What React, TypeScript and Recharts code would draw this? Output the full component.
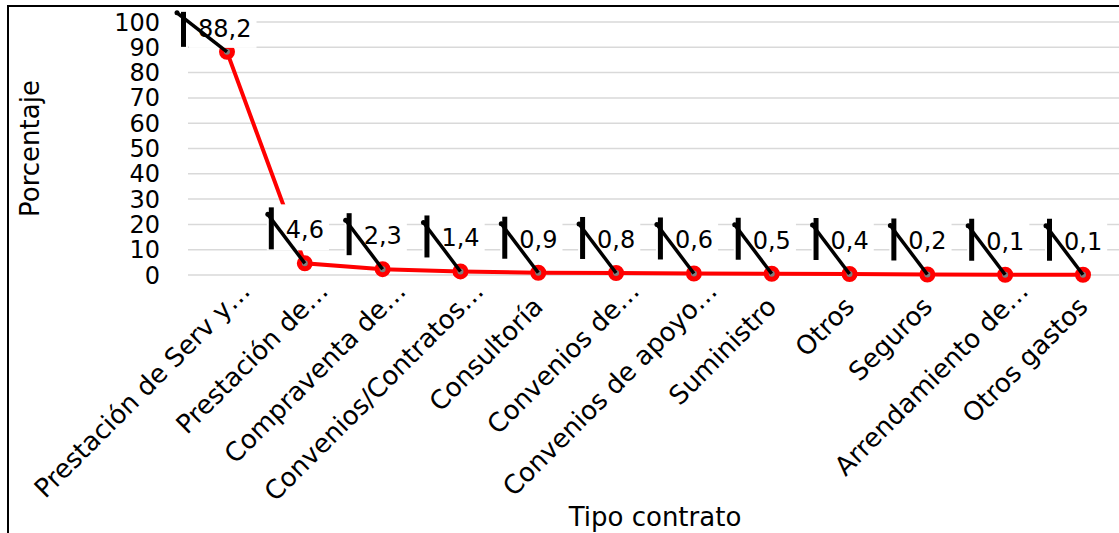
import React from 'react';
import { LineChart, Line, XAxis, YAxis, CartesianGrid, LabelList, Label } from 'recharts';

const categories = [
  'Prestación de Serv y…',
  'Prestación de…',
  'Compraventa de…',
  'Convenios/Contratos…',
  'Consultoría',
  'Convenios de…',
  'Convenios de apoyo…',
  'Suministro',
  'Otros',
  'Seguros',
  'Arrendamiento de…',
  'Otros gastos',
];
const porcentajes = [88.2, 4.6, 2.3, 1.4, 0.9, 0.8, 0.6, 0.5, 0.4, 0.2, 0.1, 0.1];
const yTicks = [0, 10, 20, 30, 40, 50, 60, 70, 80, 90, 100];

const data = categories.map((name, i) => ({ name, value: porcentajes[i] }));

const FONT = '"DejaVu Sans", sans-serif';

const fmt = (v: number) => String(v).replace('.', ',');

const CategoryTick = (props: any) => {
  const { x, y, payload } = props;
  const text: string = payload.value;
  const ell = text.endsWith('…');
  const along = ell ? 5 : -19;
  const perp = ell ? 30 : 28;
  const ex = x + (along + perp) * 0.7071;
  const ey = y + (perp - along) * 0.7071;
  return (
    <text
      x={ex}
      y={ey}
      textAnchor="end"
      transform={`rotate(-45, ${ex}, ${ey})`}
      fontFamily={FONT}
      fontSize={26}
      fill="#000"
    >
      {text}
    </text>
  );
};

// label with leader line, like the Excel export
const DataLabel = (props: any) => {
  const { x, y, value, index } = props;
  const s = fmt(value);
  const first = index === 0;
  const o = first
    ? { barX: -46, barTop: -40, barBot: -5, dotX: -50, dotY: -39, textX: -29, base: -15, boxTop: -42, boxBot: -4 }
    : { barX: -36, barTop: -56, barBot: -14, dotX: -37, dotY: -49, textX: -19, base: -25, boxTop: -59, boxBot: -13 };
  let tw = 0;
  for (const c of s) tw += c === ',' ? 7.6 : 15.3;
  const boxL = x - 38;
  const boxR = x + o.textX + tw + 5;
  return (
    <g>
      <rect x={boxL} y={y + o.boxTop} width={boxR - boxL} height={o.boxBot - o.boxTop} fill="#fff" />
      <text x={x + o.textX} y={y + o.base} fontFamily={FONT} fontSize={24} fill="#000">
        {s}
      </text>
      <rect x={x + o.barX} y={y + o.barTop} width={5} height={o.barBot - o.barTop} fill="#000" />
      <line x1={x + o.dotX} y1={y + o.dotY} x2={x} y2={y} stroke="#000" strokeWidth={3.5} />
      <circle cx={x + o.dotX} cy={y + o.dotY} r={2.5} fill="#000" />
    </g>
  );
};

const YTitle = (props: any) => {
  const vb = props.viewBox;
  const cx = vb.x + 21;
  const cy = vb.y + vb.height / 2;
  return (
    <text
      x={cx}
      y={cy}
      transform={`rotate(-90, ${cx}, ${cy})`}
      textAnchor="middle"
      dominantBaseline="central"
      fontFamily={FONT}
      fontSize={26}
      fill="#000"
    >
      Porcentaje
    </text>
  );
};

const XTitle = (props: any) => {
  const vb = props.viewBox;
  return (
    <text
      x={vb.x + vb.width / 2}
      y={vb.y + 251}
      textAnchor="middle"
      fontFamily={FONT}
      fontSize={26}
      fill="#000"
    >
      Tipo contrato
    </text>
  );
};

export default function App() {
  return (
    <div style={{ position: 'fixed', left: 0, top: 0, width: 1119, height: 533, overflow: 'hidden', background: '#fff' }}>
      <div
        style={{
          position: 'absolute',
          left: 7,
          top: 5,
          width: 1200,
          height: 600,
          borderLeft: '2px solid #000',
          borderTop: '2px solid #000',
        }}
      >
        <LineChart width={1120} height={540} data={data} margin={{ top: 15, right: 7, bottom: 0, left: 0 }}>
          <CartesianGrid vertical={false} stroke="#d9d9d9" strokeWidth={1.5} />
          <XAxis
            dataKey="name"
            interval={0}
            height={272}
            padding={{ left: 39, right: 39 }}
            tickLine={false}
            axisLine={false}
            tickSize={0}
            tickMargin={0}
            tick={<CategoryTick />}
          >
            <Label content={<XTitle />} />
          </XAxis>
          <YAxis
            width={179}
            domain={[0, 100]}
            ticks={yTicks}
            interval={0}
            tickLine={false}
            axisLine={false}
            tickSize={0}
            tickMargin={28}
            tick={{ fill: '#000', fontSize: 24, fontFamily: FONT }}
          >
            <Label content={<YTitle />} />
          </YAxis>
          <Line
            type="linear"
            dataKey="value"
            stroke="#ff0000"
            strokeWidth={4}
            dot={{ r: 5.5, stroke: '#ff0000', strokeWidth: 5, fill: '#7f7f7f' }}
            activeDot={false}
            isAnimationActive={false}
          >
            <LabelList dataKey="value" content={<DataLabel />} />
          </Line>
        </LineChart>
      </div>
    </div>
  );
}
